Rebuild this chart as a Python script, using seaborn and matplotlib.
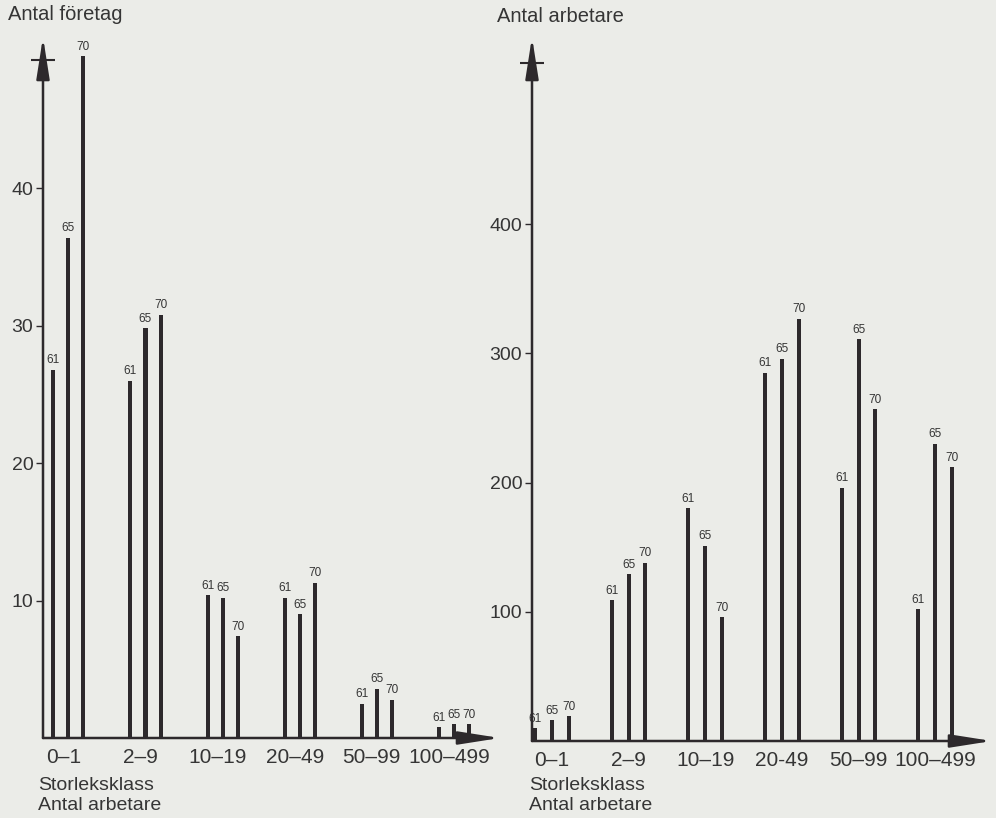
import matplotlib
matplotlib.use("Agg")
import matplotlib.pyplot as plt
import matplotlib.transforms as mtransforms
import seaborn as sns
import pandas as pd

# ---- data ----
size_classes = ["0–1", "2–9", "10–19", "20–49", "50–99", "100–499"]
tick_labels_left = ["0–1", "2–9", "10–19", "20–49", "50–99", "100–499"]
tick_labels_right = ["0–1", "2–9", "10–19", "20-49", "50–99", "100–499"]
years = ["61", "65", "70"]

foretag_61 = [26.8, 26.0, 10.4, 10.2, 2.5, 0.8]
foretag_65 = [36.4, 29.8, 10.2, 9.0, 3.6, 1.0]
foretag_70 = [49.6, 30.8, 7.4, 11.3, 2.8, 1.0]

arbetare_61 = [10, 109, 180, 285, 196, 102]
arbetare_65 = [16, 129, 151, 296, 311, 230]
arbetare_70 = [19, 138, 96, 327, 257, 212]

yticks_left = [10, 20, 30, 40]
yticks_right = [100, 200, 300, 400]

# ---- style ----
BG = "#ebece8"
INK = "#2d292c"
TXT = "#353535"

sns.set_theme(style="white")
plt.rcParams["font.family"] = ["Liberation Sans", "DejaVu Sans"]
plt.rcParams["figure.facecolor"] = BG
plt.rcParams["axes.facecolor"] = BG
plt.rcParams["savefig.facecolor"] = BG


def long_df(v61, v65, v70):
    rows = []
    for yr, vals in zip(years, [v61, v65, v70]):
        for c, v in zip(size_classes, vals):
            rows.append({"klass": c, "year": yr, "value": v})
    return pd.DataFrame(rows)


fig = plt.figure(figsize=(9.96, 8.18), dpi=100)
ax1 = fig.add_axes([43 / 996, (818 - 738) / 818, 457 / 996, 701 / 818])
ax2 = fig.add_axes([532 / 996, (818 - 741) / 818, 460 / 996, 704 / 818])


def draw(ax, df, dodge_w, bar_w, xlim, ylim, yticks, ticklabels, top_mark,
         label_shift):
    sns.barplot(data=df, x="klass", y="value", hue="year", order=size_classes,
                hue_order=years, palette=[INK] * 3, width=dodge_w,
                errorbar=None, legend=False, ax=ax, linewidth=0,
                saturation=1)
    for cont, yr in zip(ax.containers, years):
        for p in cont:
            xc = p.get_x() + p.get_width() / 2
            p.set_width(bar_w)
            p.set_x(xc - bar_w / 2)
            ax.annotate(yr, (xc, p.get_height()), xytext=(0, 2.5),
                        textcoords="offset points", ha="center", va="bottom",
                        fontsize=8.5, color=TXT)
    ax.set_xlim(*xlim)
    ax.set_ylim(*ylim)
    for s in ax.spines.values():
        s.set_visible(False)
    ax.set_xlabel("")
    ax.set_ylabel("")
    ax.set_xticks(range(len(size_classes)))
    ax.set_xticklabels(ticklabels, fontsize=15, color=TXT)
    ax.tick_params(axis="x", length=0, pad=7)
    shift = mtransforms.ScaledTranslation(label_shift / 100, 0,
                                          fig.dpi_scale_trans)
    for lab in ax.get_xticklabels():
        lab.set_transform(lab.get_transform() + shift)
    ax.set_yticks(yticks)
    ax.set_yticklabels([str(t) for t in yticks], fontsize=14, color=TXT)
    ax.tick_params(axis="y", direction="out", length=5, width=1,
                   color=INK, pad=2, left=True)
    ax.set_yticks([top_mark], minor=True)
    ax.tick_params(axis="y", which="minor", direction="inout", length=17,
                   width=1.5, color=INK, left=True)
    arrow = dict(arrowstyle="-|>,head_length=1.4,head_width=0.22",
                 color=INK, lw=1.8, mutation_scale=18, shrinkA=0, shrinkB=0)
    ax.annotate("", xy=(0, 1), xytext=(0, 0), xycoords="axes fraction",
                arrowprops=arrow, annotation_clip=False)
    ax.annotate("", xy=(1, 0), xytext=(0, 0), xycoords="axes fraction",
                arrowprops=arrow, annotation_clip=False)
    ax.grid(False)


draw(ax1, long_df(foretag_61, foretag_65, foretag_70), 0.585, 0.052,
     (-0.33, 5.6), (0, 51), yticks_left, tick_labels_left, 49.3, -5)
draw(ax2, long_df(arbetare_61, arbetare_65, arbetare_70), 0.66, 0.052,
     (-0.26, 5.74), (0, 545), yticks_right, tick_labels_right, 525, 0)

fig.text(8 / 996, 1 - 14 / 818, "Antal företag", fontsize=14.5, color=TXT,
         ha="left", va="center")
fig.text(497 / 996, 1 - 16 / 818, "Antal arbetare", fontsize=14.5, color=TXT,
         ha="left", va="center")
for x0 in (38, 529):
    fig.text(x0 / 996, 1 - 785 / 818, "Storleksklass", fontsize=14,
             color=TXT, ha="left", va="center")
    fig.text(x0 / 996, 1 - 805 / 818, "Antal arbetare", fontsize=14,
             color=TXT, ha="left", va="center")

fig.savefig("out.png", dpi=100)
